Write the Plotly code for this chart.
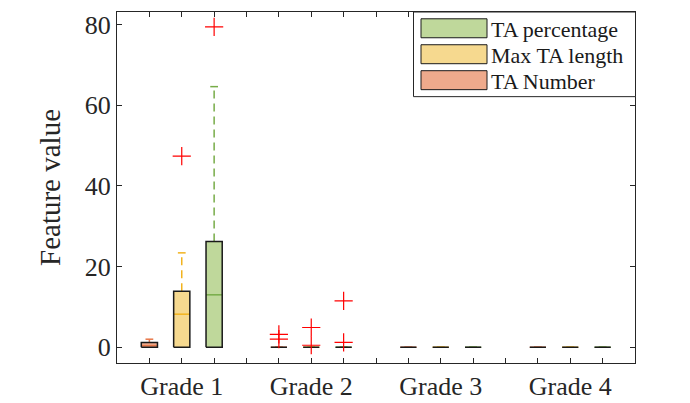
import plotly.graph_objects as go

# --- data (feature value per grade) ---
grades = ["Grade 1", "Grade 2", "Grade 3", "Grade 4"]
series = ["TA Number", "Max TA length", "TA percentage"]

ta_num_q1 = [0, 0, 0, 0]
ta_num_med = [0.4, 0, 0, 0]
ta_num_q3 = [1.2, 0, 0, 0]
ta_num_lo = [0, 0, 0, 0]
ta_num_hi = [2.0, 0, 0, 0]
ta_num_out = [[], [3.2, 2.0], [], []]

max_len_q1 = [0, 0, 0, 0]
max_len_med = [8.2, 0, 0, 0]
max_len_q3 = [13.9, 0, 0, 0]
max_len_lo = [0, 0, 0, 0]
max_len_hi = [23.4, 0, 0, 0]
max_len_out = [[47.4], [4.9, 0.5], [], []]

ta_pct_q1 = [0, 0, 0, 0]
ta_pct_med = [13.0, 0, 0, 0]
ta_pct_q3 = [26.2, 0, 0, 0]
ta_pct_lo = [0, 0, 0, 0]
ta_pct_hi = [64.6, 0, 0, 0]
ta_pct_out = [[79.4], [11.5, 1.2], [], []]

STATS = {
    "TA Number": (ta_num_q1, ta_num_med, ta_num_q3, ta_num_lo, ta_num_hi, ta_num_out),
    "Max TA length": (max_len_q1, max_len_med, max_len_q3, max_len_lo, max_len_hi, max_len_out),
    "TA percentage": (ta_pct_q1, ta_pct_med, ta_pct_q3, ta_pct_lo, ta_pct_hi, ta_pct_out),
}
FILL = {"TA Number": "#eeaa8c", "Max TA length": "#f6d98f", "TA percentage": "#bfd89b"}
LINE = {"TA Number": "#e8784a", "Max TA length": "#f2b31f", "TA percentage": "#77ac48"}

FONT = "Liberation Serif"
AX = "#262626"
BW, CW = 0.25, 0.12   # half box width, half cap width (x units)

fig = go.Figure()

def pos(g, s):
    return 4 * g + s + 1

# whiskers + caps first so the box edges sit on top
for s, name in enumerate(series):
    q1, med, q3, lo, hi, out = STATS[name]
    wx, wy, cx, cy = [], [], [], []
    for g in range(len(grades)):
        x = pos(g, s)
        wx += [x, x, None, x, x, None]
        wy += [q3[g], hi[g], None, q1[g], lo[g], None]
        cx += [x - CW, x + CW, None, x - CW, x + CW, None]
        cy += [hi[g], hi[g], None, lo[g], lo[g], None]
    fig.add_trace(go.Scatter(x=wx, y=wy, mode="lines", showlegend=False, hoverinfo="skip",
                             line=dict(color=LINE[name], width=1.5, dash="8px,5px")))
    fig.add_trace(go.Scatter(x=cx, y=cy, mode="lines", showlegend=False, hoverinfo="skip",
                             line=dict(color=LINE[name], width=1.5)))

for s, name in enumerate(series):
    q1, med, q3, lo, hi, out = STATS[name]
    bx, by, mx, my, ox, oy = [], [], [], [], [], []
    for g in range(len(grades)):
        x = pos(g, s)
        bx += [x - BW, x + BW, x + BW, x - BW, x - BW, None]
        by += [q1[g], q1[g], q3[g], q3[g], q1[g], None]
        mx += [x - BW, x + BW, None]
        my += [med[g], med[g], None]
        ox += [x] * len(out[g])
        oy += out[g]
    # fill, then median, then outline on top
    fig.add_trace(go.Scatter(x=bx, y=by, mode="lines", fill="toself", fillcolor=FILL[name],
                             line=dict(color=FILL[name], width=0), name=name, showlegend=False))
    fig.add_trace(go.Scatter(x=mx, y=my, mode="lines", showlegend=False, hoverinfo="skip",
                             line=dict(color=LINE[name], width=1.5)))
    fig.add_trace(go.Scatter(x=bx, y=by, mode="lines", showlegend=False, hoverinfo="skip",
                             line=dict(color="#1a1a1a", width=1.5)))
    fig.add_trace(go.Scatter(x=ox, y=oy, mode="markers", showlegend=False,
                             marker=dict(symbol="cross-thin", size=13,
                                         line=dict(color="#ff0000", width=1.2))))

# plot area in window pixels; the page body adds an 8px offset
L, R, T, B = 117, 635, 11.7, 363.3
OFF = 8
def px2x(p): return (p - L) / (R - L)
def px2y(p): return (B - p) / (B - T)

# --- MATLAB style legend drawn by hand (wide patches) ---
fig.add_shape(type="rect", xref="paper", yref="paper",
              x0=px2x(413.5), x1=px2x(635.5), y0=px2y(96.5), y1=px2y(11.7),
              fillcolor="white", line=dict(color=AX, width=1))
for i, name in enumerate(["TA percentage", "Max TA length", "TA Number"]):
    yc = 28 + 26 * i
    fig.add_shape(type="rect", xref="paper", yref="paper",
                  x0=px2x(421), x1=px2x(487), y0=px2y(yc + 9.5), y1=px2y(yc - 9.5),
                  fillcolor=FILL[name], line=dict(color="#1a1a1a", width=1))
    fig.add_annotation(xref="paper", yref="paper", x=px2x(489), y=px2y(yc + 1),
                       text=name, showarrow=False, xanchor="left", yanchor="middle",
                       font=dict(family=FONT, size=22, color="#1a1a1a"))

tickvals = list(range(1, 16))
ticktext = ["" for _ in tickvals]
for g, lab in enumerate(grades):
    ticktext[pos(g, 1) - 1] = lab

fig.update_xaxes(range=[0, 16], tickvals=tickvals, ticktext=ticktext, automargin=False,
                 ticks="inside", ticklen=5, tickcolor=AX, showline=True, linecolor=AX,
                 linewidth=1, mirror="ticks", showgrid=False, zeroline=False,
                 tickfont=dict(family=FONT, size=26, color="#262626"))
fig.update_yaxes(range=[-3.9, 83.1], tickvals=[0, 20, 40, 60, 80], automargin=False,
                 ticks="inside", ticklen=5, tickcolor=AX, showline=True, linecolor=AX,
                 linewidth=1, mirror="ticks", showgrid=False, zeroline=False,
                 title=dict(text="Feature value", font=dict(family=FONT, size=29, color="#262626"),
                            standoff=15),
                 tickfont=dict(family=FONT, size=26, color="#262626"))
fig.update_layout(width=690 - OFF, height=403 - OFF, plot_bgcolor="white", paper_bgcolor="white",
                  margin=dict(l=L - OFF, r=690 - R, t=T - OFF, b=403 - B), showlegend=False)

fig.write_html("out.html")
